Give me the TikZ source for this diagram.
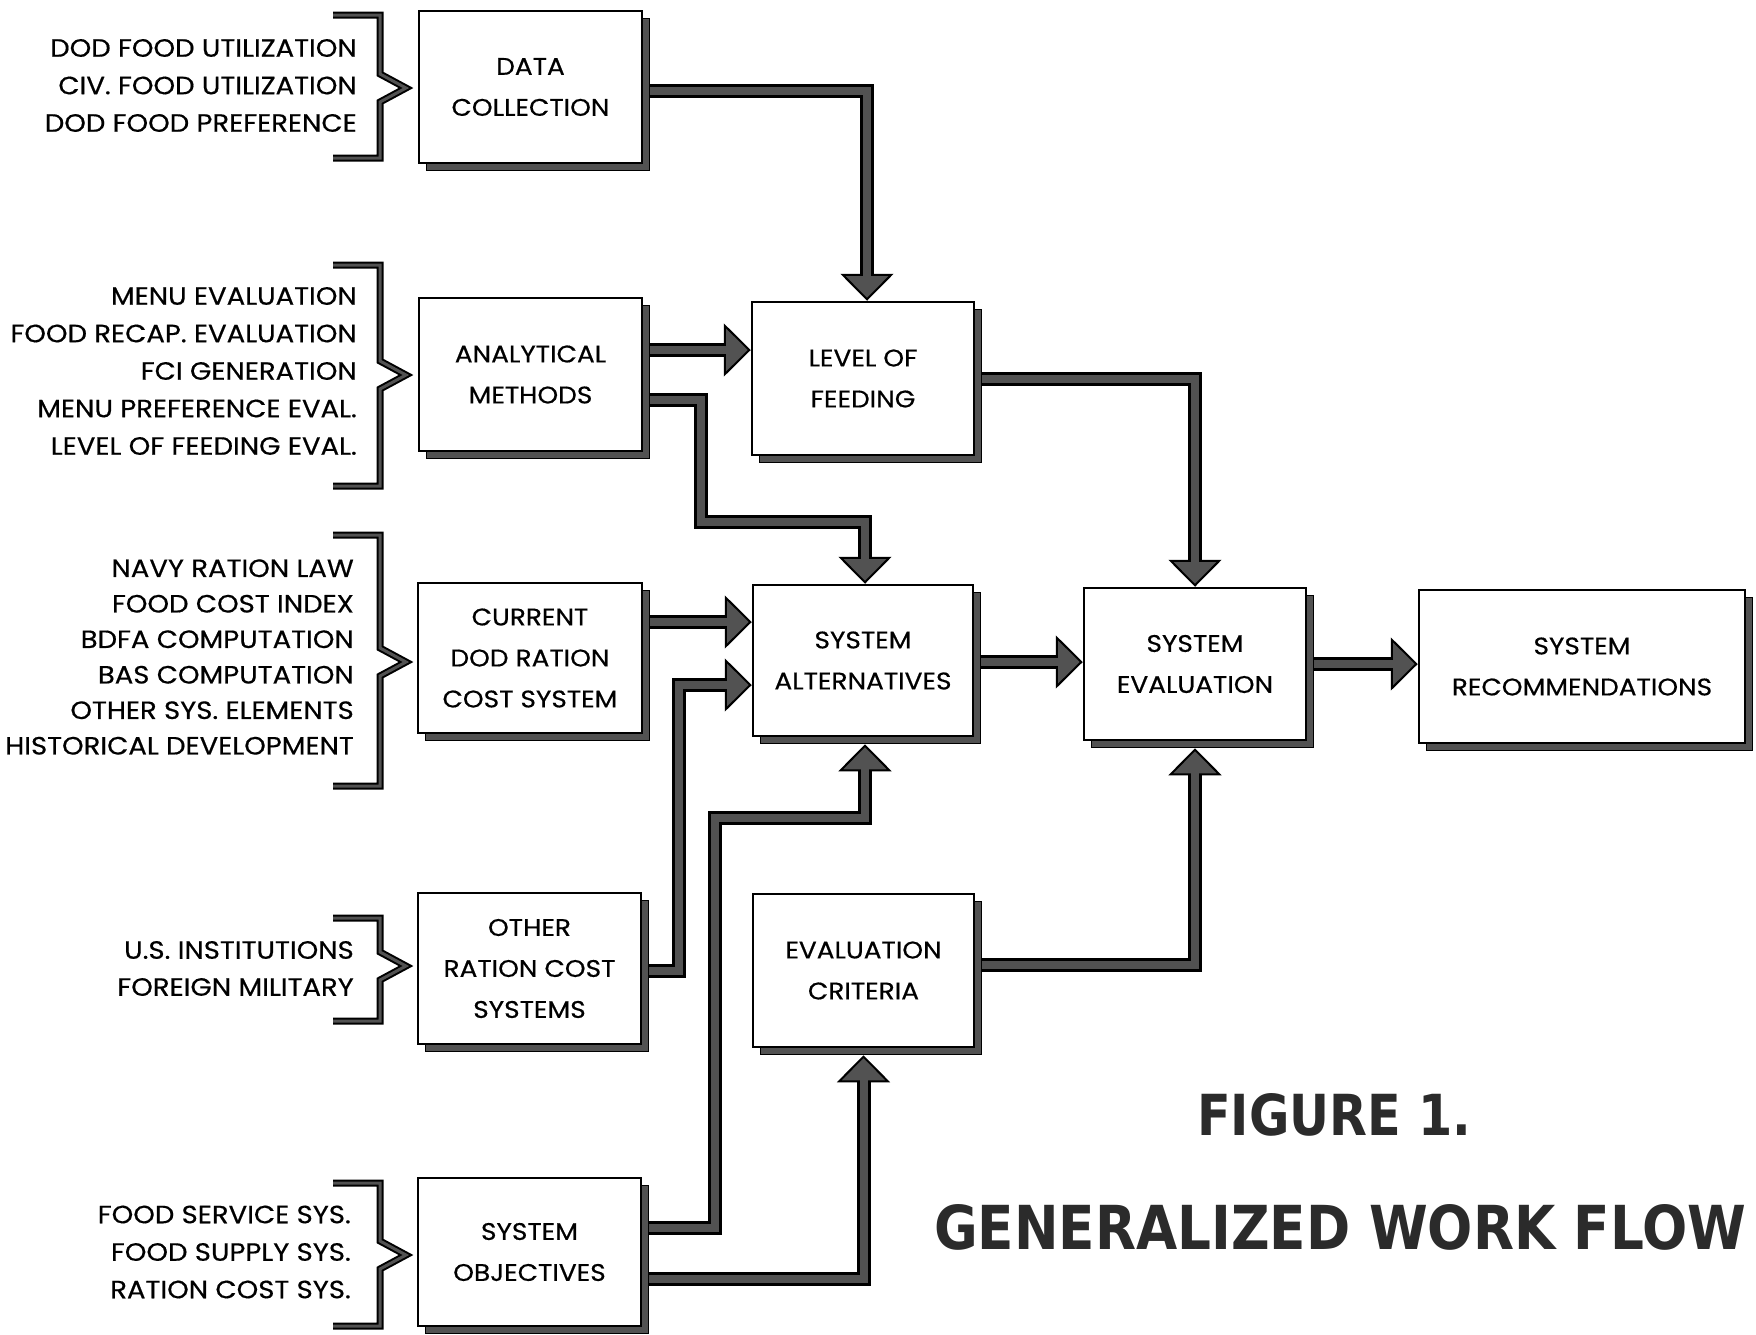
\documentclass[tikz,border=0pt]{standalone}
\usepackage{fontspec}
\usepackage{graphicx}
\setmainfont{Poppins}[FakeStretch=1.1, FakeBold=0.5]
\newfontfamily\titlefont{DejaVu Sans}
\usetikzlibrary{arrows.meta,shadows,backgrounds}

\definecolor{barfill}{gray}{0.32}
\definecolor{titlegray}{gray}{0.17}

% thick work-flow connector: black outline with a grey core
\newcommand\flowpath[1]{%
  \draw[barout] #1;
  \draw[barin] #1;}
% bracket gathering a list of inputs
\newcommand\bracketmark[3]{%
  \draw[braceout] (333,#1) -- (380,#1) -- (380,#2-14) -- (406,#2) -- (380,#2+14) -- (380,#3) -- (333,#3);
  \draw[bracein] (333,#1) -- (380,#1) -- (380,#2-14) -- (406,#2) -- (380,#2+14) -- (380,#3) -- (333,#3);}

\tikzset{
  box/.style={draw=black, line width=2.5pt, fill=white, inner sep=0pt,
    minimum width=223pt, minimum height=152pt, align=center,
    font=\fontsize{24}{41}\selectfont,
    drop shadow={shadow xshift=7pt, shadow yshift=-7pt, opacity=1,
      fill=barfill, draw=black, line width=1pt}},
  lbl/.style={anchor=east, inner sep=0pt, align=right,
    font=\fontsize{25}{37.5}\selectfont},
  barout/.style={draw=black, line width=14pt, line join=miter,
    -{Triangle[width=53pt, length=27pt, line width=2pt, fill=barfill]}},
  barin/.style={draw=barfill, line width=8pt, line join=miter, shorten >=25pt},
  braceout/.style={draw=black, line width=7pt, line join=miter},
  bracein/.style={draw=barfill, line width=3pt, line join=miter},
  ttl/.style={anchor=north west, inner sep=0pt, text=titlegray}
}

\begin{document}
\begin{tikzpicture}[x=1pt, y=-1pt]
\useasboundingbox (0,0) rectangle (1756,1334);

% ---- process boxes ----
\node[box] (data)  at (530.5, 87)    {DATA\\COLLECTION};
\node[box, minimum height=153pt] (anal) at (530.5, 374.5) {ANALYTICAL\\METHODS};
\node[box, minimum width=222pt, minimum height=153pt] (level) at (863, 378.5) {LEVEL OF\\FEEDING};
\node[box, minimum width=224pt, minimum height=150pt] (curr) at (530, 658) {CURRENT\\DOD RATION\\COST SYSTEM};
\node[box, minimum width=220pt, minimum height=151pt] (alt) at (863, 660.5) {SYSTEM\\ALTERNATIVES};
\node[box, minimum width=222pt] (eval) at (1195, 664) {SYSTEM\\EVALUATION};
\node[box, minimum width=326pt, minimum height=153pt] (rec) at (1582, 666.5) {SYSTEM\\RECOMMENDATIONS};
\node[box, minimum height=151pt] (other) at (529.5, 968.5) {OTHER\\RATION COST\\SYSTEMS};
\node[box, minimum width=221pt, minimum height=153pt] (crit) at (863.5, 970.5) {EVALUATION\\CRITERIA};
\node[box, minimum height=148pt] (obj) at (529.5, 1252) {SYSTEM\\OBJECTIVES};

% ---- input lists ----
\node[lbl] (lab1) at (357, 85.5) {DOD FOOD UTILIZATION\\CIV. FOOD UTILIZATION\\DOD FOOD PREFERENCE};
\node[lbl] (lab2) at (357, 371) {MENU EVALUATION\\FOOD RECAP. EVALUATION\\FCI GENERATION\\MENU PREFERENCE EVAL.\\LEVEL OF FEEDING EVAL.};
\node[lbl, font=\fontsize{25}{35.5}\selectfont] (lab3) at (354, 657) {NAVY RATION LAW\\FOOD COST INDEX\\BDFA COMPUTATION\\BAS COMPUTATION\\OTHER SYS. ELEMENTS\\HISTORICAL DEVELOPMENT};
\node[lbl, font=\fontsize{25}{37}\selectfont] (lab4) at (354, 968.5) {U.S. INSTITUTIONS\\FOREIGN MILITARY};
\node[lbl] (lab5) at (351, 1252) {FOOD SERVICE SYS.\\FOOD SUPPLY SYS.\\RATION COST SYS.};

\bracketmark{15}{88}{158}
\bracketmark{265}{375}{486}
\bracketmark{535}{662}{786}
\bracketmark{918}{966}{1021}
\bracketmark{1183}{1255}{1326}

% ---- title ----
\node[ttl] (fig) at (1197,1093) {\resizebox{274pt}{42pt}{\titlefont\bfseries FIGURE 1.}};
\node[ttl] (gwf) at (934,1204) {\resizebox{812pt}{45pt}{\titlefont\bfseries GENERALIZED WORK FLOW}};

% ---- connector end points ----
\coordinate (s1)  at ([yshift=-4pt]data.east);
\coordinate (s2)  at ([yshift=24.5pt]anal.east);
\coordinate (s3)  at ([yshift=-25.5pt]anal.east);
\coordinate (s4)  at ([yshift=36pt]curr.east);
\coordinate (s5)  at ([yshift=-2.5pt]other.east);
\coordinate (e5)  at ([yshift=-24.5pt]alt.west);
\coordinate (s6)  at ([yshift=24pt]obj.east);
\coordinate (s7)  at ([yshift=-27pt]obj.east);
\coordinate (s8)  at ([yshift=5.5pt]crit.east);
\coordinate (s10) at ([yshift=-1.5pt]alt.east);

\begin{scope}[on background layer]
\flowpath{(s1) -| ([xshift=4pt]level.north)}
\flowpath{(s2) -- (s2 -| level.west)}
\flowpath{(s3) -| (701,522) -| ([xshift=2pt]alt.north)}
\flowpath{(s4) -- (s4 -| alt.west)}
\flowpath{(s5) -| ([xshift=-73pt]e5) -- (e5)}
\flowpath{(s6) -| (715,818) -| ([xshift=2pt,yshift=-7pt]alt.south)}
\flowpath{(s7) -| ([yshift=-7pt]crit.south)}
\flowpath{(s8) -| ([yshift=-7pt]eval.south)}
\flowpath{(level.east) -| (eval.north)}
\flowpath{(s10) -- (s10 -| eval.west)}
\flowpath{(eval.east) -- (eval.east -| rec.west)}
\end{scope}
\end{tikzpicture}
\end{document}
